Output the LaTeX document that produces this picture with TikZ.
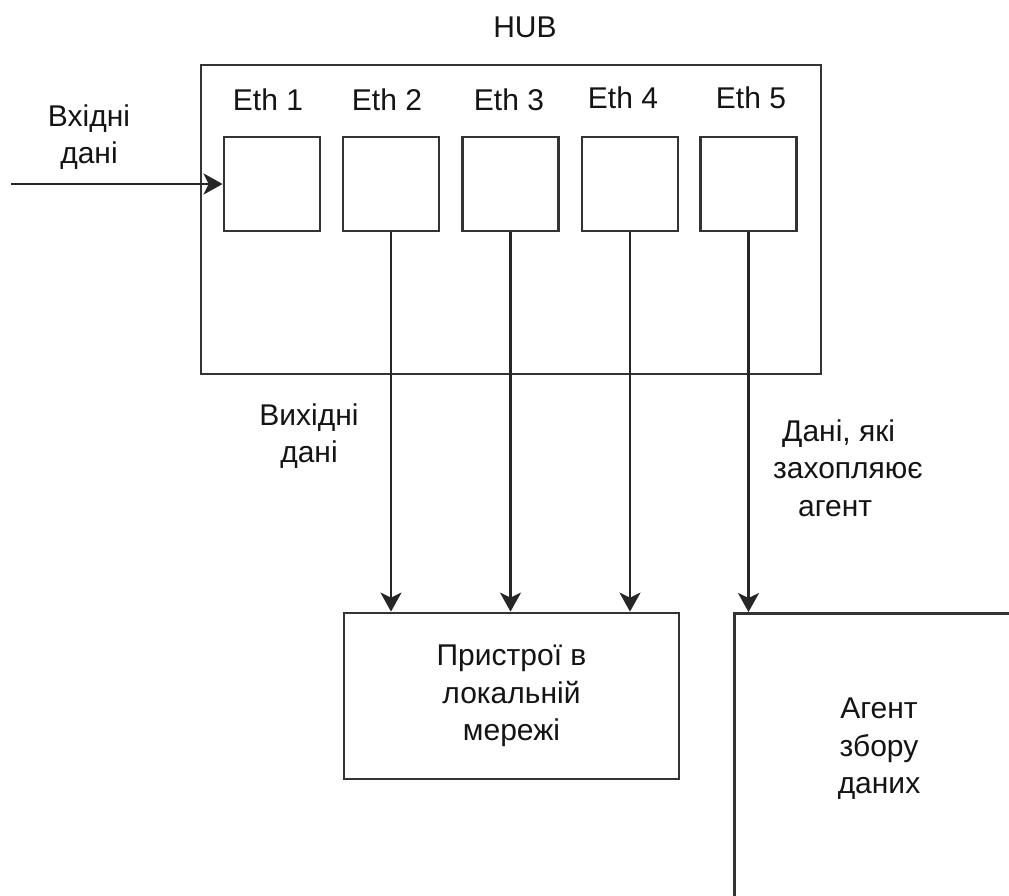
\documentclass[tikz,border=0pt]{standalone}
\usepackage{fontspec}
\setmainfont{Liberation Sans}
\usetikzlibrary{arrows.meta}
\begin{document}
\begin{tikzpicture}[x=1pt,y=-1pt,
  every node/.style={font=\fontsize{30}{37.5}\selectfont, text=black!92, inner sep=0pt},
  box/.style={draw=black!80, line width=2.8pt, fill=white},
  port/.style={box, minimum width=96pt, minimum height=94pt},
  link/.style={draw=black!85, line width=2.6pt, -{Stealth[length=19pt,width=21pt,inset=5pt]}},
  lbl/.style={align=center}
]
\useasboundingbox (0,0) rectangle (1009,895);
\clip (0,0) rectangle (1009,895);

% hub with its five ports
\node[box, minimum width=620pt, minimum height=309pt] (hub) at (511,219.5) {};
\node[anchor=base] (hubname) at (525,37) {HUB};

\node[port] (p1) at (272,184) {};
\node[port] (p2) at (391,184) {};
\node[port] (p3) at (510.5,184) {};
\node[port] (p4) at (630,184) {};
\node[port] (p5) at (748.5,184) {};

\node[anchor=base] (e1) at (268,110) {Eth 1};
\node[anchor=base] (e2) at (387,110) {Eth 2};
\node[anchor=base] (e3) at (509,110) {Eth 3};
\node[anchor=base] (e4) at (623,108) {Eth 4};
\node[anchor=base] (e5) at (751,108) {Eth 5};

% receivers
\node[box, minimum width=335pt, minimum height=166pt, align=center] (dev) at (511.5,696) {Пристрої в\\локальній\\мережі};
\node[box, anchor=north west, minimum width=300pt, minimum height=340pt] (agent) at (733,612) {};
\node[lbl] (agenttext) at (879,749) {Агент\\збору\\даних};

% traffic
\coordinate (src) at (11,184);
\draw[link] (src) -- (p1.west);
\draw[link] (p2.south) -- (p2.south |- dev.north);
\draw[link] (p3.south) -- (p3.south |- dev.north);
\draw[link] (p4.south) -- (p4.south |- dev.north);
\draw[link] (p5.south) -- (p5.south |- agent.north);

% captions
\node[lbl] (inlbl) at (89,137) {Вхідні\\дані};
\node[lbl] (outlbl) at (309,436) {Вихідні\\дані};
\node[align=left, anchor=west] (caplbl) at (773,468) {\hspace*{9pt}Дані, які\\захопляює\\\hspace*{25pt}агент};
\end{tikzpicture}
\end{document}
